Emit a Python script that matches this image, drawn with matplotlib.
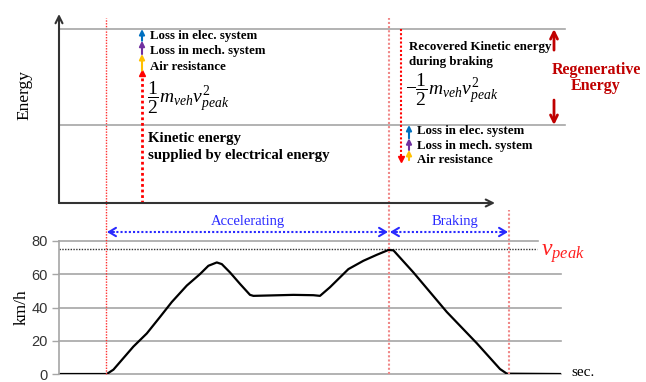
import numpy as np
import matplotlib
matplotlib.use('Agg')
import matplotlib.pyplot as plt

plt.rcParams['mathtext.fontset'] = 'custom'
plt.rcParams['mathtext.rm'] = 'Liberation Serif'
plt.rcParams['mathtext.it'] = 'Liberation Serif:italic'

# speed profile (sec, km/h)
t_sec = [1, 23.9, 27.2, 37.2, 43.9, 50.5, 56.4, 63.9, 70.5, 74.7, 78.9, 81.4, 85.5,
         90.5, 95.5, 97.2, 117.2, 127.2, 130.5, 135.5, 144.7, 152.2, 158.9, 164.7,
         167.2, 177.2, 193.9, 208.9, 220.5, 223.9, 250.5]
speed = [0, 0, 2.6, 16.5, 24.4, 34.3, 43.3, 53.2, 60.1, 65.1, 67.1, 66.1, 61.1,
         54.2, 47.6, 47.0, 47.6, 47.4, 47.0, 52.2, 63.1, 68.1, 71.7, 74.6,
         74.4, 61.1, 37.3, 18.5, 3.0, 0.2, 0]
v_peak = 75
t_start, t_peak, t_stop = 23.5, 165, 225
speed_ticks = [0, 20, 40, 60, 80]

# energy levels (schematic units)
e_kin = 1.0
acc_seg = [1.70, 0.21, 0.17, 0.15]       # kinetic(red), air, mech, elec
brk_seg = [0.55, 0.13, 0.15, 0.17]       # bottom of red arrow, air, mech, elec
loss_labels = ['Air resistance', 'Loss in mech. system', 'Loss in elec. system']
loss_colors = ['#FFC000', '#7030A0', '#0070C0']

e_top = sum(acc_seg)

W, H = 646, 382
fig = plt.figure(figsize=(W / 100, H / 100), dpi=100)

serif = 'Liberation Serif'
sans = 'Liberation Sans'

# ---------------- speed panel
ax = fig.add_axes([59 / W, 8 / H, (561 - 59) / W, 133 / H])
ax.set_xlim(0, 251)
ax.set_ylim(0, 80)
for v in speed_ticks:
    xe = 239.5 if v == 80 else 251
    ax.plot([0, xe], [v, v], color='#a6a6a6', lw=1.2, zorder=1, clip_on=False)
ax.plot([0, 239], [v_peak, v_peak], color='#333333', lw=1, ls=(0, (1, 1)), zorder=2)
ax.plot(t_sec, speed, color='black', lw=1.6, zorder=3)
for s in ['top', 'right', 'bottom']:
    ax.spines[s].set_visible(False)
ax.spines['left'].set_color('#a6a6a6')
ax.spines['left'].set_linewidth(1.2)
ax.set_xticks([])
ax.set_yticks(speed_ticks)
ax.tick_params(axis='y', length=5, width=1, color='#a6a6a6', pad=3, labelsize=10.5)
for lb in ax.get_yticklabels():
    lb.set_fontfamily(sans)
    lb.set_color('#333333')
ax.text(241, v_peak - 2.5, r'$v_{peak}$', color='#ff2020', fontsize=17,
        va='center', ha='left')

# vertical red event lines
ax.axvline(t_start, ymin=0, ymax=(374 - 18) / 133, color='#ff3030', lw=1,
           ls=(0, (1, 1)), clip_on=False, zorder=4)
ax.axvline(t_peak, ymin=0, ymax=(374 - 18) / 133, color='#f08888', lw=1.5,
           ls=(0, (1, 1)), clip_on=False, zorder=4)
ax.axvline(t_stop, ymin=0, ymax=(374 - 210) / 133, color='#f08888', lw=1.5,
           ls=(0, (1, 1)), clip_on=False, zorder=4)

# accelerating / braking arrows
blue = '#2a2aff'
y_arr = 80 + 9 * 80 / 133
for a, b, lab in [(t_start, t_peak, 'Accelerating'), (t_peak, t_stop, 'Braking')]:
    ax.plot([a + 1, b - 1], [y_arr, y_arr], color=blue, lw=1.5, ls=(0, (1, 1)),
            clip_on=False)
    for tip, tail in [(a + 0.5, a + 4), (b - 0.5, b - 4)]:
        ax.annotate('', xy=(tip, y_arr), xytext=(tail, y_arr),
                    arrowprops=dict(arrowstyle='->,head_width=0.3,head_length=0.5',
                                    color=blue, lw=1.5, shrinkA=0, shrinkB=0),
                    annotation_clip=False)
    ax.text((a + b) / 2 + (3 if lab == 'Braking' else 0), y_arr + 10 * 80 / 133, lab,
            color=blue, fontsize=10.5, family=serif, ha='center', va='center')

# ---------------- energy panel
ae = fig.add_axes([59 / W, (H - 203) / H, (561 - 59) / W, (203 - 14) / H])
ae.set_xlim(0, 251)
ae.set_ylim(0, 189 / 78)
ae.axis('off')
ae.annotate('', xy=(0, 189 / 78), xytext=(0, 0),
            arrowprops=dict(arrowstyle='->,head_width=0.25,head_length=0.5',
                            color='#333333', lw=1.5, shrinkA=0, shrinkB=0),
            annotation_clip=False)
ae.annotate('', xy=(218, 0), xytext=(0, 0),
            arrowprops=dict(arrowstyle='->,head_width=0.25,head_length=0.5',
                            color='#333333', lw=1.5, shrinkA=0, shrinkB=0),
            annotation_clip=False)
for lev in [e_top, e_kin]:
    ae.plot([0, 253], [lev, lev], color='#a6a6a6', lw=1.2, clip_on=False)

x_acc, x_dec, x_dloss = 41.5, 171, 175

# accelerating stack
ae.plot([x_acc, x_acc], [0, acc_seg[0] - 0.04], color='red', lw=2, ls=(0, (1, 1)))
ae.plot([x_acc], [acc_seg[0] - 0.03], marker='^', color='red', ms=5)
base = acc_seg[0]
for seg, col in zip(acc_seg[1:], loss_colors):
    ae.annotate('', xy=(x_acc, base + seg), xytext=(x_acc, base),
                arrowprops=dict(arrowstyle='-|>,head_width=0.15,head_length=0.3',
                                color=col, lw=1.5, shrinkA=0, shrinkB=0))
    base += seg
for lab, yv in zip(loss_labels, [1.74, 1.95, 2.14]):
    ae.text(45.5, yv, lab, family=serif, weight='bold', fontsize=9.3,
            va='center', ha='left')
ae.text(44, 1.35, r'$\dfrac{1}{2}m_{veh}v_{peak}^{2}$', fontsize=14,
        va='center', ha='left')
ae.text(44.5, 0.83, 'Kinetic energy', family=serif, weight='bold', fontsize=10.7,
        va='center', ha='left')
ae.text(44.5, 0.61, 'supplied by electrical energy', family=serif, weight='bold',
        fontsize=10.7, va='center', ha='left')

# braking stack
ae.plot([x_dec, x_dec], [e_top, brk_seg[0] + 0.04], color='red', lw=1.5,
        ls=(0, (1, 1)))
ae.plot([x_dec], [brk_seg[0] + 0.02], marker='v', color='red', ms=5)
base = brk_seg[0]
for seg, col in zip(brk_seg[1:], loss_colors):
    ae.annotate('', xy=(x_dloss, base + seg), xytext=(x_dloss, base),
                arrowprops=dict(arrowstyle='-|>,head_width=0.15,head_length=0.3',
                                color=col, lw=1.5, shrinkA=0, shrinkB=0))
    base += seg
for lab, yv in zip(loss_labels, [0.55, 0.73, 0.92]):
    ae.text(179, yv, lab, family=serif, weight='bold', fontsize=9.3,
            va='center', ha='left')
ae.text(175, 2.0, 'Recovered Kinetic energy', family=serif, weight='bold',
        fontsize=9.3, va='center', ha='left')
ae.text(175, 1.81, 'during braking', family=serif, weight='bold',
        fontsize=9.3, va='center', ha='left')
ae.text(173, 1.45, r'$-\dfrac{1}{2}m_{veh}v_{peak}^{2}$', fontsize=14,
        va='center', ha='left')

# regenerative energy
dark_red = '#C00000'
ae.annotate('', xy=(247.5, e_top), xytext=(247.5, e_top - 0.27),
            arrowprops=dict(arrowstyle='->,head_width=0.25,head_length=0.5',
                            color=dark_red, lw=2, shrinkA=0, shrinkB=0),
            annotation_clip=False)
ae.annotate('', xy=(247.5, e_kin), xytext=(247.5, e_kin + 0.32),
            arrowprops=dict(arrowstyle='->,head_width=0.25,head_length=0.5',
                            color=dark_red, lw=2, shrinkA=0, shrinkB=0),
            annotation_clip=False)
ae.text(268.5, 1.60, 'Regenerative\nEnergy', family=serif, weight='bold',
        fontsize=11.5, color=dark_red, ha='center', va='center', linespacing=1.05,
        multialignment='center')

# axis labels
fig.text(24 / W, 1 - 95 / H, 'Energy', family=serif, fontsize=12.5, rotation=90,
         ha='center', va='center')
fig.text(22 / W, 1 - 307 / H, 'km/h', family=serif, fontsize=12.5, rotation=90,
         ha='center', va='center')
fig.text(571 / W, 1 - 373 / H, 'sec.', family=serif, fontsize=11, ha='left',
         va='center')

fig.savefig('out.png', dpi=100)
